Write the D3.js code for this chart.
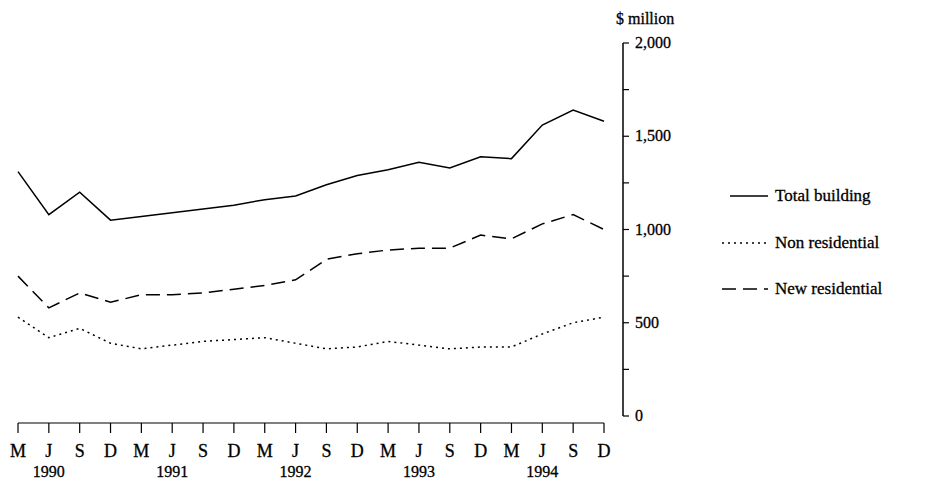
<!DOCTYPE html><html><head><script src="https://cdn.jsdelivr.net/npm/d3@7"></script>
<style>body{margin:0;background:#fff}text{font-family:"Liberation Serif","DejaVu Serif",serif;fill:#000;stroke:#000;stroke-width:0.3}</style></head><body>
<svg id="c" width="927" height="481"></svg>
<script>
const quarters=["M","J","S","D","M","J","S","D","M","J","S","D","M","J","S","D","M","J","S","D"];
const years=["1990","1991","1992","1993","1994"];
const total=[1310,1080,1200,1050,1070,1090,1110,1130,1160,1180,1240,1290,1320,1360,1330,1390,1380,1560,1640,1580];
const newRes=[750,580,660,610,650,650,660,680,700,730,840,870,890,900,900,970,950,1030,1080,1000];
const nonRes=[530,420,470,390,360,380,400,410,420,390,360,370,400,380,360,370,370,440,500,530];
const yTicks=[0,500,1000,1500,2000];
const svg=d3.select("#c");
const x=d3.scaleLinear().domain([0,19]).range([18,604]);
const y=d3.scaleLinear().domain([0,2000]).range([416,43]);
const ya=svg.append("g").attr("transform","translate(623,0)");
ya.append("line").attr("y1",y(0)).attr("y2",y(2000)).attr("stroke","#000").attr("stroke-width",1.5);
ya.selectAll("line.t").data(d3.range(0,2001,250)).join("line").attr("class","t")
 .attr("x1",0).attr("x2",6).attr("y1",d=>y(d)).attr("y2",d=>y(d)).attr("stroke","#000").attr("stroke-width",1.2);
ya.selectAll("text").data(yTicks).join("text").attr("x",12).attr("y",d=>y(d)+5).attr("font-size",16)
 .text(d=>d3.format(",")(d));
svg.append("text").attr("x",616).attr("y",24).attr("font-size",16).text("$ million");
const ax=423;
svg.append("line").attr("x1",x(0)).attr("x2",x(19)).attr("y1",ax).attr("y2",ax).attr("stroke","#000").attr("stroke-width",1.2);
svg.selectAll("line.xt").data(quarters).join("line").attr("class","xt").attr("x1",(d,i)=>x(i)).attr("x2",(d,i)=>x(i))
 .attr("y1",ax).attr("y2",ax+10).attr("stroke","#000").attr("stroke-width",1.2);
svg.selectAll("text.q").data(quarters).join("text").attr("class","q").attr("x",(d,i)=>x(i)).attr("y",457)
 .attr("text-anchor","middle").attr("font-size",18).text(d=>d);
svg.selectAll("text.yr").data(years).join("text").attr("class","yr").attr("x",(d,i)=>x(i*4+1)).attr("y",477)
 .attr("text-anchor","middle").attr("font-size",16).text(d=>d);
const line=d3.line().x((d,i)=>x(i)).y(d=>y(d));
const series=[{v:total,dash:null,name:"Total building"},{v:nonRes,dash:"2,4",name:"Non residential"},{v:newRes,dash:"14,7",name:"New residential"}];
series.forEach(s=>svg.append("path").attr("d",line(s.v)).attr("fill","none").attr("stroke","#000").attr("stroke-width",1.5).attr("stroke-dasharray",s.dash));
const ly=[196,243,289];
series.forEach((s,i)=>{
 svg.append("line").attr("x1",s.dash==null?730:722).attr("x2",768).attr("y1",ly[i]).attr("y2",ly[i]).attr("stroke","#000").attr("stroke-width",1.5).attr("stroke-dasharray",s.dash);
 svg.append("text").attr("x",775).attr("y",ly[i]+5).attr("font-size",17).text(s.name);
});
</script></body></html>
